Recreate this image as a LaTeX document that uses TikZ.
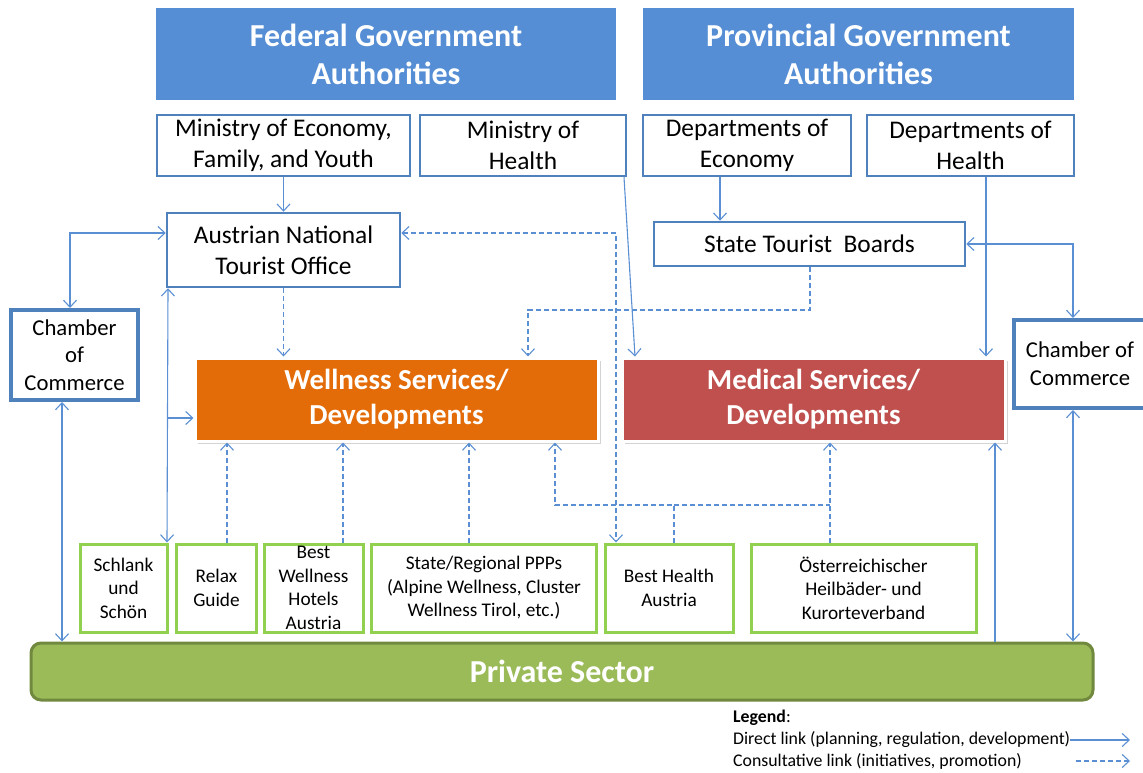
\documentclass[tikz,border=0pt]{standalone}
\usepackage{fontspec}
\setmainfont{Carlito}
\usetikzlibrary{arrows.meta,shadows}
\definecolor{hdrblue}{HTML}{558ED5}
\definecolor{lnblue}{HTML}{4F81BD}
\definecolor{arblue}{HTML}{5B8FD3}
\definecolor{wellor}{HTML}{E36C09}
\definecolor{medred}{HTML}{C0504D}
\definecolor{grnbrd}{HTML}{92D050}
\definecolor{privfill}{HTML}{9BBB59}
\definecolor{privbrd}{HTML}{71893F}
\tikzset{
  hdr/.style={fill=hdrblue, draw=none, text=white, align=center, inner sep=0pt,
    font=\fontsize{32}{38}\selectfont\bfseries},
  bluebox/.style={draw=lnblue, line width=2.5pt, fill=white, align=center, inner sep=0pt,
    font=\fontsize{25.4}{31}\selectfont},
  chamber/.style={draw=lnblue, line width=4pt, fill=white, align=center, inner sep=0pt,
    font=\fontsize{22.7}{27.7}\selectfont},
  servbox/.style={draw=white, line width=3pt, text=white, align=center, inner sep=0pt,
    font=\fontsize{29}{35}\selectfont\bfseries,
    drop shadow={opacity=0.35, shadow xshift=2.5pt, shadow yshift=-3pt}},
  grnbox/.style={draw=grnbrd, line width=3pt, fill=white, align=center, inner sep=0pt,
    minimum height=88pt, font=\fontsize{19.3}{23.5}\selectfont},
  legtxt/.style={anchor=west, inner sep=0pt, font=\fontsize{17.8}{21}\selectfont},
  conn/.style={draw=arblue, line width=1.1pt, >={Straight Barb[length=7pt,width=13pt]}},
  cons/.style={conn, dash pattern=on 5pt off 3pt},
}
\begin{document}
\begin{tikzpicture}[x=1pt,y=-1pt]
\useasboundingbox (0,0) rectangle (1143,773);
% headers
\node[hdr, minimum width=460pt, minimum height=92pt] (fed) at (386,54) {Federal Government\\Authorities};
\node[hdr, minimum width=431pt, minimum height=92pt] (prov) at (858.5,54) {Provincial Government\\Authorities};
% ministries / departments
\node[bluebox, minimum width=253pt, minimum height=61pt] (mecon) at (283.5,145.5) {Ministry of Economy,\\Family, and Youth};
\node[bluebox, minimum width=206pt, minimum height=61pt] (mhealth) at (523,145.5) {Ministry of\\Health};
\node[bluebox, minimum width=208pt, minimum height=61pt] (deco) at (747,145.5) {Departments of\\Economy};
\node[bluebox, minimum width=207pt, minimum height=61pt] (dhealth) at (970.5,145.5) {Departments of\\Health};
% tourist bodies
\node[bluebox, minimum width=233pt, minimum height=74pt] (anto) at (283.5,250) {Austrian National\\Tourist Office};
\node[bluebox, minimum width=311pt, minimum height=44pt] (stb) at (809.5,244) {State Tourist~ Boards};
% chambers
\node[chamber, minimum width=127pt, minimum height=90pt] (chL) at (74.5,355) {Chamber\\of\\Commerce};
\node[chamber, minimum width=132pt, minimum height=88pt] (chR) at (1080,364) {Chamber of\\Commerce};
% services
\node[servbox, fill=wellor, minimum width=403pt, minimum height=83pt] (well) at (396.5,399.5) {Wellness Services/\\Developments};
\node[servbox, fill=medred, minimum width=383pt, minimum height=83pt] (med) at (813.5,399.5) {Medical Services/\\Developments};
% green boxes
\node[grnbox, minimum width=87pt] (g1) at (123.5,588) {Schlank\\und\\Schön};
\node[grnbox, minimum width=80pt] (g2) at (216.5,588) {Relax\\Guide};
\node[grnbox, minimum width=99pt] (g3) at (313.5,588) {Best\\Wellness\\Hotels\\Austria};
\node[grnbox, minimum width=225pt] (g4) at (484,588) {State/Regional PPPs\\(Alpine Wellness, Cluster\\Wellness Tirol, etc.)};
\node[grnbox, minimum width=128pt] (g5) at (669,588) {Best Health\\Austria};
\node[grnbox, minimum width=225pt] (g6) at (863.5,588) {Österreichischer\\Heilbäder- und\\Kurorteverband};
% private sector
\node[fill=privfill, draw=privbrd, line width=3pt, rounded corners=10pt, minimum width=1062pt, minimum height=57pt,
  text=white, font=\fontsize{32}{36}\selectfont\bfseries, inner sep=0pt] (priv) at (562,671.5) {Private Sector};

% direct links
\draw[conn,->] (mecon.south) -- (anto.north);
\draw[conn,->] (720,0 |- deco.south) -- (720,0 |- stb.north);
\draw[conn,->] (986,0 |- dhealth.south) -- (986,0 |- med.north);
\draw[conn,->] (624,0 |- mhealth.south) -- (635,0 |- med.north);
\draw[conn,<->] (anto.west |- 0,233) -| (70,0 |- chL.north);
\draw[conn,<->] (stb.east) -| (1073,0 |- chR.north);
\draw[conn,<->] (62,0 |- chL.south) -- (62,0 |- priv.north);
\draw[conn,<->] (1073,0 |- chR.south) -- (1073,0 |- priv.north);
\draw[conn,->] (995,0 |- priv.north) -- (995,0 |- med.south);
\draw[conn,<->] (168,0 |- anto.south) -- (167,0 |- g1.north);
\coordinate (jn) at (168,418);
\draw[conn,->] (jn) -- (well.west |- jn);

% consultative links
\draw[cons,->] (anto.south) -- (anto.south |- well.north);
\draw[cons,->] (810,0 |- stb.south) -- (810,310) -| (528,0 |- well.north);
\draw[cons,<->] (anto.east |- 0,233) -| (616,0 |- g5.north);
\draw[cons,->] (227,0 |- g2.north) -- (227,0 |- well.south);
\draw[cons,->] (343,0 |- g3.north) -- (343,0 |- well.south);
\draw[cons,->] (469,0 |- g4.north) -- (469,0 |- well.south);
\coordinate (bh) at (674,505);
\draw[cons,->] (674,0 |- g5.north) -- (bh) -| (555,0 |- well.south);
\draw[cons] (bh) -- (830,505);
\draw[cons,->] (830,0 |- g6.north) -- (830,0 |- med.south);

% legend
\node[legtxt] (lg0) at (733,718) {\textbf{Legend}:};
\node[legtxt] (lg1) at (733,740) {Direct link (planning, regulation, development)};
\node[legtxt] (lg2) at (733,761) {Consultative link (initiatives, promotion)};
\coordinate (la1) at (1130,740);
\coordinate (la2) at (1130,761);
\draw[conn,->] (lg1.east) -- (la1);
\draw[cons,->] (1076,761) -- (la2);
\end{tikzpicture}
\end{document}
